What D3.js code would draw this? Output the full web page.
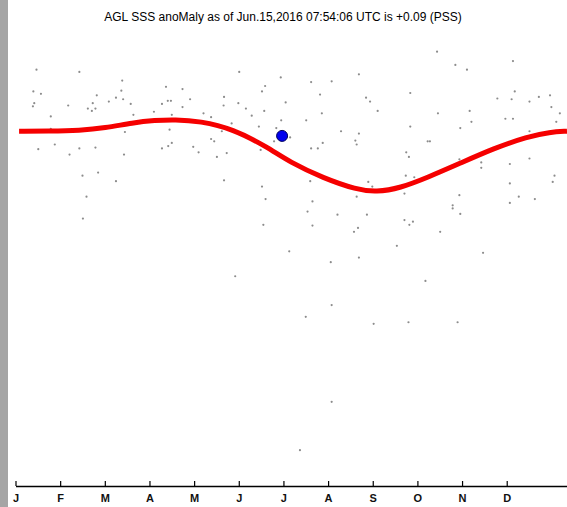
<!DOCTYPE html>
<meta charset="utf-8">
<style>
  body { margin: 0; background: #fff; }
  svg { display: block; font-family: "Liberation Sans", Arial, sans-serif; }
</style>
<body>

<!-- load the d3.js library -->
<script src="https://cdn.jsdelivr.net/npm/d3@7/dist/d3.min.js"></script>
<script>
// title and month labels
var title = "AGL SSS anoMaly as of Jun.15,2016 07:54:06 UTC is +0.09 (PSS)";
var monthLabels = ["J","F","M","A","M","J","J","A","S","O","N","D"];

// gray dots: [month position, anomaly]
var obsMonth = [0.47,1.43,2.39,0.40,0.57,2.37,1.82,2.25,2.09,2.41,0.42,0.39,1.18,1.73,1.62,1.71,1.79,2.58,2.64,0.79,
  0.79,2.45,0.51,0.88,1.43,1.79,1.21,2.43,1.50,1.85,2.25,1.59,1.51,
  5.01,5.94,3.37,3.74,5.59,5.52,3.41,3.48,3.91,4.67,6.05,3.28,3.74,4.66,4.99,5.16,5.57,3.10,4.21,4.38,5.29,3.50,
  5.95,4.84,5.45,3.45,5.84,4.62,4.38,4.45,3.50,3.42,3.28,3.98,4.10,4.73,4.51,5.79,5.49,4.67,5.52,5.60,5.55,
  7.69,6.62,7.08,6.82,7.85,7.94,8.84,8.11,6.86,6.51,8.84,7.29,7.69,6.15,7.61,7.64,6.88,6.62,6.77,8.75,8.81,9.23,
  8.74,8.93,6.60,7.90,7.99,7.64,8.71,6.65,6.54,7.21,7.87,6.65,7.67,8.71,8.82,8.90,
  9.44,9.85,10.11,11.14,11.18,10.79,11.11,11.51,11.72,11.97,12.00,12.19,9.46,10.17,10.21,10.97,11.14,12.11,9.96,11.51,
  9.28,9.94,10.43,10.43,11.07,11.51,12.07,12.03,11.07,9.94,11.27,11.63,9.79,9.79,11.07,9.96,
  6.13,4.92,7.58,9.51,8.54,7.06,7.69,10.47,9.18,7.08,6.50,8.02,8.80,9.90,7.08,6.37];
var obsValue = [0.94,0.91,0.80,0.66,0.63,0.67,0.61,0.58,0.53,0.56,0.51,0.47,0.48,0.51,0.44,0.41,0.44,0.50,0.36,0.34,
  0.18,0.14,-0.08,-0.02,-0.07,-0.06,-0.15,-0.15,-0.42,-0.38,-0.49,-0.69,-0.97,
  0.91,0.84,0.72,0.69,0.73,0.66,0.54,0.54,0.56,0.59,0.52,0.50,0.46,0.48,0.51,0.44,0.41,0.40,0.38,0.33,0.35,0.36,
  0.29,0.25,0.21,0.17,0.19,0.15,0.05,0.02,0.00,-0.04,-0.07,-0.05,-0.12,-0.13,-0.18,0.02,-0.09,-0.48,-0.56,-0.72,-1.05,
  0.88,0.78,0.79,0.62,0.58,0.53,0.64,0.41,0.38,0.29,0.21,0.15,0.12,0.07,0.03,-0.02,0.00,-0.07,-0.07,-0.12,-0.18,0.02,
  -0.42,-0.44,-0.49,-0.50,-0.56,-0.69,-0.65,-0.75,-0.88,-0.92,-0.92,-1.06,-1.09,-0.99,-1.05,-1.01,
  1.17,1.00,0.94,1.05,0.66,0.57,0.56,0.53,0.59,0.61,0.46,0.38,0.38,0.41,0.27,0.31,0.31,0.27,0.19,0.15,
  0.02,-0.21,-0.25,-0.32,-0.27,-0.20,-0.42,-0.50,-0.52,-0.67,-0.69,-0.72,-0.80,-0.84,-0.77,-0.91,
  -1.39,-1.71,-1.14,-1.14,-1.32,-1.53,-1.47,-1.41,-1.77,-2.08,-2.23,-2.32,-2.30,-2.30,-3.32,-3.94];

// red curve (climatology)
var curveMonth = [0.08,0.77,1.44,2.00,2.63,3.12,3.57,4.13,4.87,5.63,6.15,6.89,7.64,8.08,8.61,9.24,9.96,10.71,11.46,11.97,12.35];
var curveValue = [0.15,0.15,0.16,0.19,0.26,0.29,0.30,0.28,0.18,-0.05,-0.25,-0.45,-0.60,-0.63,-0.58,-0.44,-0.26,-0.07,0.08,0.14,0.15];

// current value (blue dot)
var nowMonth = 5.97, nowValue = 0.09;

var width = 567, height = 507;

var svg = d3.select("body").append("svg")
    .attr("width", width)
    .attr("height", height);

// gray strip on the left edge
svg.append("rect")
    .attr("x", 0).attr("y", 0)
    .attr("width", 8).attr("height", height)
    .attr("fill", "#a5a5a5");

var x = d3.scaleLinear()
    .domain([0, 12.35])
    .range([15.5, 567]);

var y = d3.scaleLinear()
    .domain([-4.4, 1.32])
    .range([486, 40]);

// title
svg.append("text")
    .attr("x", 283)
    .attr("y", 21)
    .attr("text-anchor", "middle")
    .style("font-size", "12px")
    .text(title);

// scatter of observations
var pts = obsMonth.map(function(m, i) { return {m: m, v: obsValue[i]}; });
svg.append("g")
  .selectAll("circle")
    .data(pts)
    .enter()
    .append("circle")
    .attr("cx", function(d) { return x(d.m); })
    .attr("cy", function(d) { return y(d.v); })
    .attr("r", 1.1)
    .attr("fill", "#8c8c8c");

// red curve
var line = d3.line()
    .x(function(d) { return x(d[0]); })
    .y(function(d) { return y(d[1]); })
    .curve(d3.curveBasis);
svg.append("path")
    .datum(curveMonth.map(function(m, i) { return [m, curveValue[i]]; }))
    .attr("fill", "none")
    .attr("stroke", "#f50000")
    .attr("stroke-width", 5)
    .attr("d", line);

// blue dot
svg.append("circle")
    .attr("cx", x(nowMonth))
    .attr("cy", y(nowValue))
    .attr("r", 5.5)
    .attr("fill", "#0000ee")
    .attr("stroke", "#00005a")
    .attr("stroke-width", 1);

// x axis with upward ticks
var xAxis = svg.append("g")
    .attr("transform", "translate(0,486)")
    .call(d3.axisBottom(x)
        .tickValues(d3.range(12))
        .tickFormat(function(d) { return monthLabels[d]; })
        .tickSizeInner(-5)
        .tickSizeOuter(0)
        .tickPadding(8));
xAxis.select(".domain").attr("stroke", "#000").attr("stroke-width", 1.6);
xAxis.selectAll(".tick line").attr("stroke", "#000").attr("stroke-width", 1.2);
xAxis.selectAll(".tick text")
    .attr("fill", "#111")
    .style("font-size", "11px")
    .style("font-weight", "bold")
    .style("font-family", "'Liberation Sans', Arial, sans-serif");
</script>
</body>
